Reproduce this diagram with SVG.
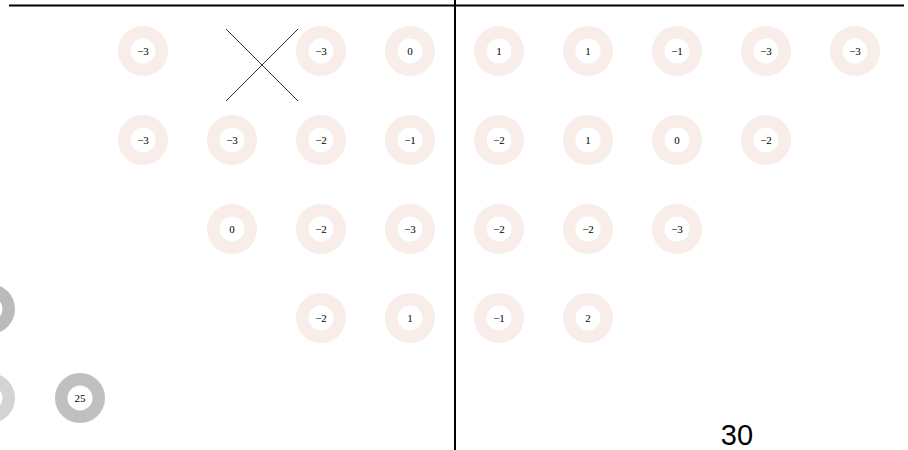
<svg xmlns="http://www.w3.org/2000/svg" width="908" height="450" viewBox="0 0 908 450">
<style>
.n circle{fill:none;stroke:#f8ede8;stroke-width:12.5}
.g circle{fill:none;stroke-width:12.5}
text{font-family:"Liberation Serif",serif;font-size:11px;text-anchor:middle;fill:#000}
.big{font-family:"Liberation Sans",sans-serif;font-size:29px}
.ln{stroke:#000;stroke-width:2}
</style>
<rect width="908" height="450" fill="#fff"/>
<g id="connectors">
<line class="ln" x1="9" y1="5.5" x2="904" y2="5.5"/>
<line class="ln" x1="455" y1="0" x2="455" y2="450"/>
<line x1="226" y1="29" x2="298" y2="101" stroke="#333" stroke-width="1"/>
<line x1="298" y1="29" x2="226" y2="101" stroke="#333" stroke-width="1"/>
</g>
<g id="r1c1" class="n"><circle cx="143" cy="51" r="18.75"/><text x="143" y="55">−3</text></g>
<g id="r1c3" class="n"><circle cx="321" cy="51" r="18.75"/><text x="321" y="55">−3</text></g>
<g id="r1c4" class="n"><circle cx="410" cy="51" r="18.75"/><text x="410" y="55">0</text></g>
<g id="r1c5" class="n"><circle cx="499" cy="51" r="18.75"/><text x="499" y="55">1</text></g>
<g id="r1c6" class="n"><circle cx="588" cy="51" r="18.75"/><text x="588" y="55">1</text></g>
<g id="r1c7" class="n"><circle cx="677" cy="51" r="18.75"/><text x="677" y="55">−1</text></g>
<g id="r1c8" class="n"><circle cx="766" cy="51" r="18.75"/><text x="766" y="55">−3</text></g>
<g id="r1c9" class="n"><circle cx="855" cy="51" r="18.75"/><text x="855" y="55">−3</text></g>
<g id="r2c1" class="n"><circle cx="143" cy="140" r="18.75"/><text x="143" y="144">−3</text></g>
<g id="r2c2" class="n"><circle cx="232" cy="140" r="18.75"/><text x="232" y="144">−3</text></g>
<g id="r2c3" class="n"><circle cx="321" cy="140" r="18.75"/><text x="321" y="144">−2</text></g>
<g id="r2c4" class="n"><circle cx="410" cy="140" r="18.75"/><text x="410" y="144">−1</text></g>
<g id="r2c5" class="n"><circle cx="499" cy="140" r="18.75"/><text x="499" y="144">−2</text></g>
<g id="r2c6" class="n"><circle cx="588" cy="140" r="18.75"/><text x="588" y="144">1</text></g>
<g id="r2c7" class="n"><circle cx="677" cy="140" r="18.75"/><text x="677" y="144">0</text></g>
<g id="r2c8" class="n"><circle cx="766" cy="140" r="18.75"/><text x="766" y="144">−2</text></g>
<g id="r3c2" class="n"><circle cx="232" cy="229" r="18.75"/><text x="232" y="233">0</text></g>
<g id="r3c3" class="n"><circle cx="321" cy="229" r="18.75"/><text x="321" y="233">−2</text></g>
<g id="r3c4" class="n"><circle cx="410" cy="229" r="18.75"/><text x="410" y="233">−3</text></g>
<g id="r3c5" class="n"><circle cx="499" cy="229" r="18.75"/><text x="499" y="233">−2</text></g>
<g id="r3c6" class="n"><circle cx="588" cy="229" r="18.75"/><text x="588" y="233">−2</text></g>
<g id="r3c7" class="n"><circle cx="677" cy="229" r="18.75"/><text x="677" y="233">−3</text></g>
<g id="r4c3" class="n"><circle cx="321" cy="318" r="18.75"/><text x="321" y="322">−2</text></g>
<g id="r4c4" class="n"><circle cx="410" cy="318" r="18.75"/><text x="410" y="322">1</text></g>
<g id="r4c5" class="n"><circle cx="499" cy="318" r="18.75"/><text x="499" y="322">−1</text></g>
<g id="r4c6" class="n"><circle cx="588" cy="318" r="18.75"/><text x="588" y="322">2</text></g>
<g id="gray1" class="g"><circle cx="-10" cy="309" r="18.75" stroke="#bbbbbb"/></g>
<g id="gray2" class="g"><circle cx="-10" cy="398" r="18.75" stroke="#d4d4d4"/></g>
<g id="gray3" class="g"><circle cx="80" cy="398" r="18.75" stroke="#c0c0c0"/><text x="80" y="402">25</text></g>
<text class="big" x="737" y="445">30</text>
</svg>
